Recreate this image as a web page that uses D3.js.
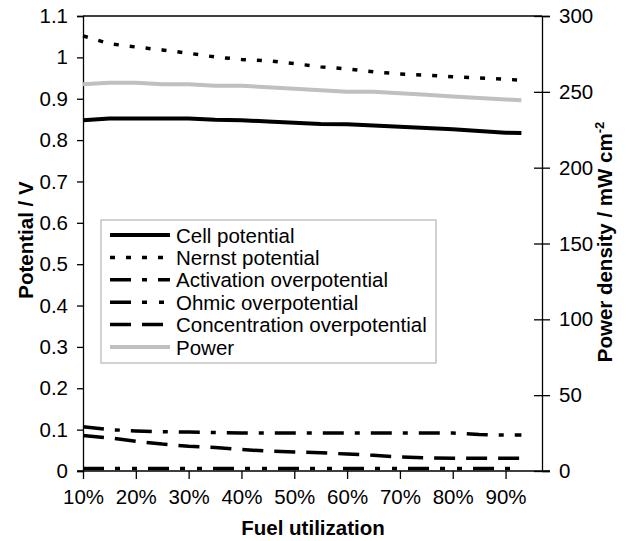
<!DOCTYPE html>
<html>
<head>
<meta charset="utf-8">
<script src="https://cdn.jsdelivr.net/npm/d3@7"></script>
<style>
  body { margin: 0; background: #fff; }
  svg { font-family: "Liberation Sans", Arial, sans-serif; }
</style>
</head>
<body>
<svg id="chart" width="629" height="541"></svg>
<script>
// fuel utilization (fraction)
const utilization = [0.10, 0.15, 0.20, 0.25, 0.30, 0.35, 0.40, 0.45, 0.50, 0.55, 0.60, 0.65, 0.70, 0.75, 0.80, 0.85, 0.90, 0.93];

// potentials in V
const cellPotential = [0.848, 0.852, 0.852, 0.852, 0.852, 0.849, 0.848, 0.845, 0.842, 0.839, 0.838, 0.835, 0.832, 0.829, 0.826, 0.822, 0.818, 0.817];
const nernstPotential = [1.052, 1.033, 1.025, 1.018, 1.010, 1.001, 0.995, 0.992, 0.985, 0.977, 0.972, 0.965, 0.960, 0.957, 0.953, 0.950, 0.947, 0.945];
const activationOver = [0.107, 0.100, 0.097, 0.095, 0.094, 0.093, 0.092, 0.092, 0.092, 0.092, 0.092, 0.092, 0.092, 0.092, 0.092, 0.088, 0.087, 0.087];
const ohmicOver = [0.006, 0.006, 0.006, 0.006, 0.006, 0.006, 0.006, 0.006, 0.006, 0.006, 0.006, 0.006, 0.006, 0.006, 0.006, 0.006, 0.006, 0.006];
const concentrationOver = [0.086, 0.080, 0.072, 0.065, 0.060, 0.057, 0.052, 0.048, 0.046, 0.044, 0.041, 0.038, 0.034, 0.032, 0.031, 0.031, 0.031, 0.031];

// power density in mW cm-2
const powerDensity = [255, 256, 256, 255, 255, 254, 254, 253, 252, 251, 250, 250, 249, 248, 247, 246, 245, 244.5];

const xTicks = [0.1, 0.2, 0.3, 0.4, 0.5, 0.6, 0.7, 0.8, 0.9];
const leftTicks = [0, 0.1, 0.2, 0.3, 0.4, 0.5, 0.6, 0.7, 0.8, 0.9, 1, 1.1];
const rightTicks = [0, 50, 100, 150, 200, 250, 300];

const svg = d3.select("#chart");
const plotLeft = 83, plotRight = 542, plotTop = 16, plotBottom = 471;
const fontSize = "20.5px";

const x = d3.scaleLinear().domain([0.1, 0.969]).range([plotLeft, plotRight]);
const y = d3.scaleLinear().domain([0, 1.1]).range([plotBottom, plotTop]);
const y2 = d3.scaleLinear().domain([0, 300]).range([plotBottom, plotTop]);

// frame top line
svg.append("line")
   .attr("x1", plotLeft).attr("x2", plotRight)
   .attr("y1", plotTop).attr("y2", plotTop)
   .attr("stroke", "#000").attr("stroke-width", 1.3);

const fmtV = d => d3.format(".1f")(d).replace(/\.0$/, "");

const gx = svg.append("g")
   .attr("transform", `translate(0,${plotBottom})`)
   .call(d3.axisBottom(x).tickValues(xTicks).tickFormat(d3.format(".0%")).tickSizeOuter(0).tickSize(8).tickPadding(10));

const gy = svg.append("g")
   .attr("transform", `translate(${plotLeft},0)`)
   .call(d3.axisLeft(y).tickValues(leftTicks).tickFormat(fmtV).tickSizeOuter(0).tickSize(6).tickPadding(9));

const gy2 = svg.append("g")
   .attr("transform", `translate(${plotRight},0)`)
   .call(d3.axisRight(y2).tickValues(rightTicks).tickSizeOuter(0).tickSize(8).tickPadding(9));

gy2.selectAll(".tick line").attr("x1", -8);
gx.select(".domain").attr("d", `M${plotLeft - 6},0H${plotRight + 8}`);

[gx, gy, gy2].forEach(g => {
    g.selectAll("text").style("font-size", fontSize).attr("fill", "#000");
    g.select(".domain").attr("stroke-width", 1.3);
    g.selectAll(".tick line").attr("stroke-width", 1.3);
});

// series
const series = [
    {name: "Cell potential", values: cellPotential, axis: y, color: "#000", width: 4, dash: null},
    {name: "Nernst potential", values: nernstPotential, axis: y, color: "#000", width: 3.5, dash: "5,11"},
    {name: "Activation overpotential", values: activationOver, axis: y, color: "#000", width: 3.5, dash: "21,11,5,11"},
    {name: "Ohmic overpotential", values: ohmicOver, axis: y, color: "#000", width: 3.5, dash: "21,11,5,12,5,11"},
    {name: "Concentration overpotential", values: concentrationOver, axis: y, color: "#000", width: 3.5, dash: "21,11"},
    {name: "Power", values: powerDensity, axis: y2, color: "#c0c0c0", width: 4, dash: null}
];

series.forEach(s => {
    const line = d3.line()
        .x((d, i) => x(utilization[i]))
        .y(d => s.axis(d));
    svg.append("path")
       .datum(s.values)
       .attr("d", line)
       .attr("fill", "none")
       .attr("stroke", s.color)
       .attr("stroke-width", s.width)
       .attr("stroke-dasharray", s.dash);
});

// legend
const legend = svg.append("g").attr("transform", "translate(101,220)");
legend.append("rect")
      .attr("width", 335).attr("height", 143)
      .attr("fill", "#fff").attr("stroke", "#bbb").attr("stroke-width", 1.3);

series.forEach((s, i) => {
    const ly = 15 + i * 22.4;
    legend.append("line")
          .attr("x1", 9).attr("x2", 69)
          .attr("y1", ly).attr("y2", ly)
          .attr("stroke", s.color)
          .attr("stroke-width", s.width)
          .attr("stroke-dasharray", s.dash);
    legend.append("text")
          .attr("x", 75).attr("y", ly + 7.5)
          .style("font-size", fontSize)
          .text(s.name);
});

// axis titles
svg.append("text")
   .attr("x", 313).attr("y", 535)
   .attr("text-anchor", "middle")
   .style("font-size", fontSize).style("font-weight", "bold")
   .text("Fuel utilization");

svg.append("text")
   .attr("transform", "translate(33,240) rotate(-90)")
   .attr("text-anchor", "middle")
   .style("font-size", fontSize).style("font-weight", "bold")
   .text("Potential / V");

const rt = svg.append("text")
   .attr("transform", "translate(612,242) rotate(-90)")
   .attr("text-anchor", "middle")
   .style("font-size", fontSize).style("font-weight", "bold");
rt.append("tspan").text("Power density / mW cm");
rt.append("tspan").attr("dy", -8).style("font-size", "13px").text("-2");
</script>
</body>
</html>
